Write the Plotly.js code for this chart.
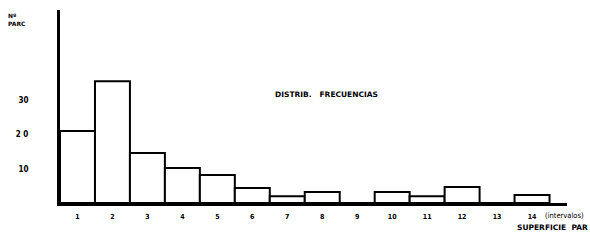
<!DOCTYPE html>
<html>
<head>
<meta charset="utf-8">
<script src="https://cdn.plot.ly/plotly-3.0.1.min.js"></script>
<style>html,body{margin:0;padding:0;background:#fff;}#chart{width:590px;height:242px;}</style>
</head>
<body>
<div id="chart"></div>
<script>
const intervals = [1,2,3,4,5,6,7,8,9,10,11,12,13,14];
const frequencies = [21, 35.5, 14.6, 10.2, 8.2, 4.4, 2, 3.2, 0, 3.2, 2, 4.7, 0, 2.3];
const xTickLabels = ['1','2','3','4','5','6','7','8','9','10','11','12','13','14'];
const yTickValues = [10, 20, 30];
const yTickLabels = ['10', '2 0', '30'];

const trace = {
  type: 'bar',
  x: intervals,
  y: frequencies,
  width: 1,
  marker: {color: '#ffffff', line: {color: '#000000', width: 2}},
  hoverinfo: 'x+y'
};

const layout = {
  width: 590, height: 242,
  margin: {l: 60, r: 23, t: 10, b: 39},
  paper_bgcolor: '#ffffff', plot_bgcolor: '#ffffff',
  showlegend: false,
  bargap: 0,
  font: {family: 'DejaVu Sans', color: '#000'},
  xaxis: {
    range: [0.5, 15], showgrid: false, zeroline: false,
    showline: true, linecolor: '#000', linewidth: 3,
    tickmode: 'array', tickvals: intervals, ticktext: xTickLabels,
    ticks: '', ticklabelstandoff: 5,
    tickfont: {size: 7, weight: 'bold', family: 'DejaVu Sans Condensed'}
  },
  yaxis: {
    range: [0, 56.3], showgrid: false, zeroline: false,
    showline: true, linecolor: '#000', linewidth: 3,
    tickmode: 'array', tickvals: yTickValues, ticktext: yTickLabels,
    ticks: '', ticklabelstandoff: 27,
    tickfont: {size: 8, weight: 'bold', family: 'DejaVu Sans Condensed'}
  },
  annotations: [
    {xref: 'paper', yref: 'paper', x: 0.525, y: 0.56, xanchor: 'center', yanchor: 'middle',
     text: 'DISTRIB.   FRECUENCIAS', showarrow: false,
     font: {size: 7.5, weight: 'bold', family: 'DejaVu Sans'}},
    {xref: 'paper', yref: 'paper', x: -0.106, y: 1.0, xanchor: 'left', yanchor: 'top', align: 'left',
     text: 'Nº<br>PARC', showarrow: false,
     font: {size: 6, weight: 'bold', family: 'DejaVu Sans'}},
    {xref: 'x', yref: 'paper', x: 14.3, y: -0.067, xanchor: 'left', yanchor: 'middle',
     text: '(intervalos)', showarrow: false,
     font: {size: 7.5, family: 'DejaVu Sans Condensed'}},
    {xref: 'paper', yref: 'paper', x: 1.046, y: -0.125, xanchor: 'right', yanchor: 'middle',
     text: 'SUPERFICIE  PAR', showarrow: false,
     font: {size: 7.5, weight: 'bold', family: 'DejaVu Sans'}}
  ]
};

Plotly.newPlot('chart', [trace], layout, {displayModeBar: false, staticPlot: true});
</script>
</body>
</html>
